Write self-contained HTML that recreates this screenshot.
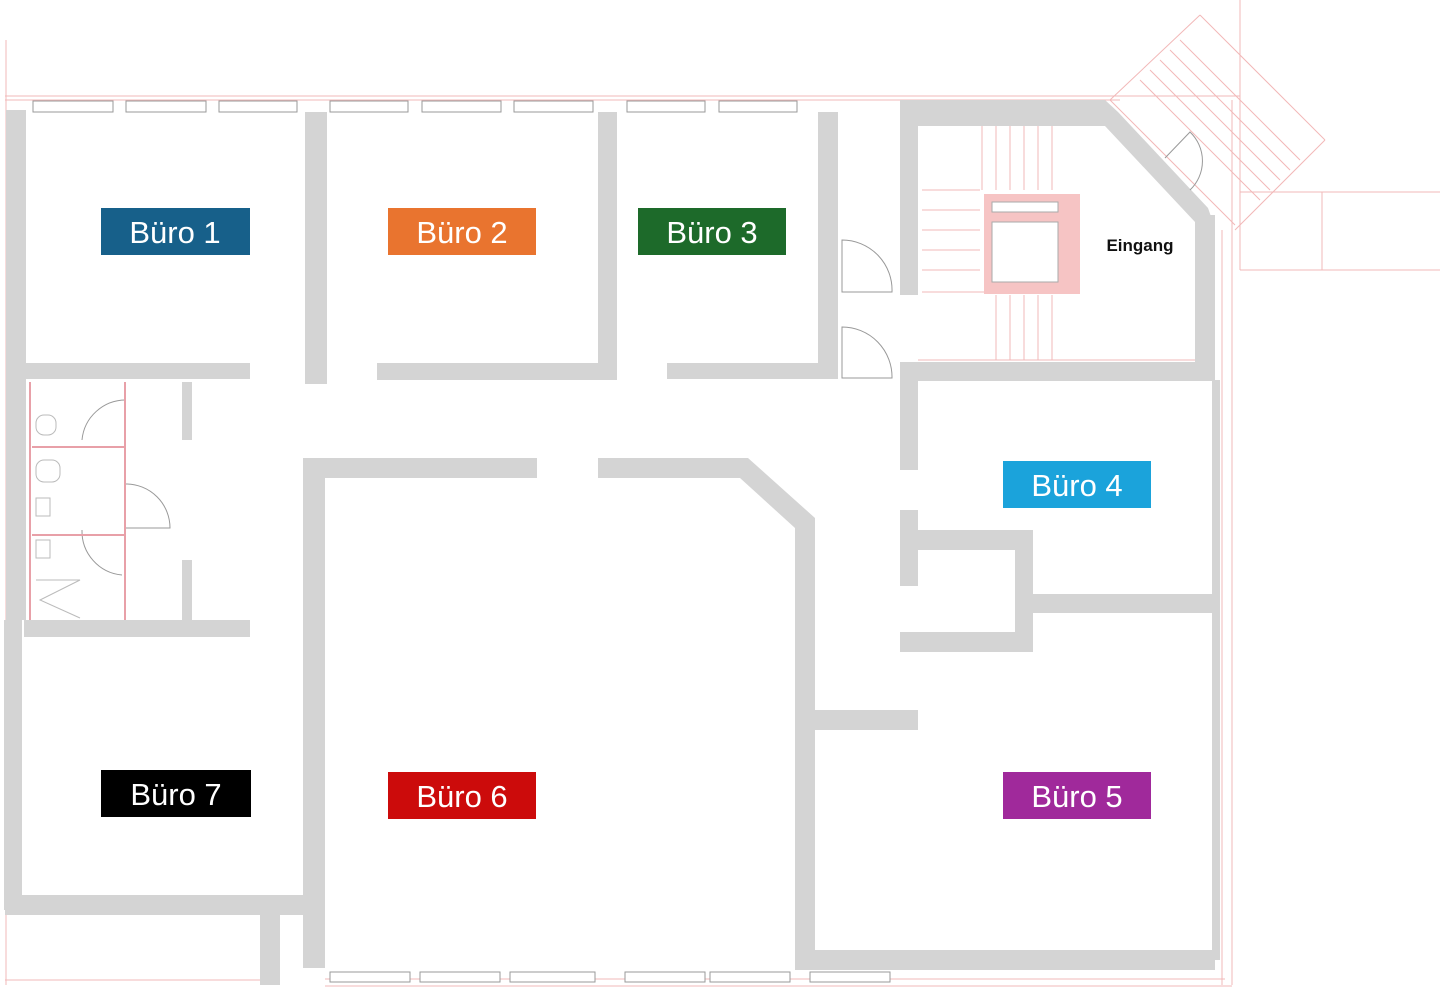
<!DOCTYPE html>
<html><head><meta charset="utf-8"><style>
html,body{margin:0;padding:0;background:#fff;}
svg{display:block}
.lbl{font-family:"Liberation Sans",sans-serif;font-size:31px;fill:#fff;text-anchor:middle}
</style></head><body>
<svg width="1440" height="990" viewBox="0 0 1440 990" xmlns="http://www.w3.org/2000/svg">
<g fill="none" stroke="#f2b8b8" stroke-width="1">
  <line x1="5" y1="96" x2="1240" y2="96"/>
  <line x1="5" y1="100" x2="1120" y2="100"/>
  <line x1="6" y1="40" x2="6" y2="985"/>
  <line x1="1232" y1="100" x2="1232" y2="985"/>
  <line x1="1222" y1="230" x2="1222" y2="985"/>
  <line x1="325" y1="986" x2="1232" y2="986"/>
  <line x1="325" y1="979" x2="1225" y2="979"/>
  <line x1="5" y1="980" x2="260" y2="980"/>
  <line x1="1110" y1="100" x2="1200" y2="15"/>
  <line x1="1200" y1="15" x2="1325" y2="140"/>
  <line x1="1235" y1="230" x2="1325" y2="140"/>
  <line x1="1180" y1="40" x2="1300" y2="160"/>
  <line x1="1170" y1="50" x2="1290" y2="170"/>
  <line x1="1160" y1="60" x2="1280" y2="180"/>
  <line x1="1150" y1="70" x2="1270" y2="190"/>
  <line x1="1140" y1="80" x2="1260" y2="200"/>
  <line x1="1110" y1="100" x2="1235" y2="225"/>
  <line x1="1240" y1="192" x2="1440" y2="192"/>
  <line x1="1240" y1="270" x2="1440" y2="270"/>
  <line x1="1322" y1="192" x2="1322" y2="270"/>
  <line x1="1240" y1="0" x2="1240" y2="270"/>
  <line x1="922" y1="190" x2="980" y2="190"/>
  <line x1="922" y1="210" x2="980" y2="210"/>
  <line x1="922" y1="230" x2="980" y2="230"/>
  <line x1="922" y1="250" x2="980" y2="250"/>
  <line x1="922" y1="270" x2="980" y2="270"/>
  <line x1="922" y1="292" x2="1080" y2="292"/>
  <line x1="982" y1="125" x2="982" y2="190"/>
  <line x1="996" y1="125" x2="996" y2="190"/>
  <line x1="1010" y1="125" x2="1010" y2="190"/>
  <line x1="1024" y1="125" x2="1024" y2="190"/>
  <line x1="1038" y1="125" x2="1038" y2="190"/>
  <line x1="1052" y1="125" x2="1052" y2="190"/>
  <line x1="996" y1="295" x2="996" y2="360"/>
  <line x1="1010" y1="295" x2="1010" y2="360"/>
  <line x1="1024" y1="295" x2="1024" y2="360"/>
  <line x1="1038" y1="295" x2="1038" y2="360"/>
  <line x1="1052" y1="295" x2="1052" y2="360"/>
  <line x1="918" y1="360" x2="1195" y2="360"/>
</g>
<rect x="984" y="194" width="96" height="100" fill="#f6c4c4"/>
<rect x="992" y="202" width="66" height="10" fill="#fff" stroke="#aaa" stroke-width="1"/>
<rect x="992" y="222" width="66" height="60" fill="#fff" stroke="#aaa" stroke-width="1"/>
<g fill="#fff" stroke="#9a9a9a" stroke-width="1">
  <rect x="33" y="101" width="80" height="11"/><rect x="126" y="101" width="80" height="11"/><rect x="219" y="101" width="78" height="11"/>
  <rect x="330" y="101" width="78" height="11"/><rect x="422" y="101" width="79" height="11"/><rect x="514" y="101" width="79" height="11"/>
  <rect x="627" y="101" width="78" height="11"/><rect x="719" y="101" width="78" height="11"/>
  <rect x="330" y="972" width="80" height="10"/><rect x="420" y="972" width="80" height="10"/><rect x="510" y="972" width="85" height="10"/>
  <rect x="625" y="972" width="80" height="10"/><rect x="710" y="972" width="80" height="10"/><rect x="810" y="972" width="80" height="10"/>
</g>
<g fill="#d4d4d4">
  <rect x="6" y="110" width="20" height="510"/>
  <rect x="4" y="620" width="18" height="290"/>
  <rect x="305" y="112" width="22" height="272"/>
  <rect x="598" y="112" width="19" height="266"/>
  <rect x="818" y="112" width="20" height="262"/>
  <rect x="900" y="100" width="205" height="26"/>
  <rect x="900" y="112" width="18" height="183"/>
  <rect x="24" y="363" width="226" height="16"/>
  <rect x="377" y="363" width="240" height="17"/>
  <rect x="667" y="363" width="171" height="16"/>
  <rect x="900" y="362" width="315" height="19"/>
  <rect x="1195" y="215" width="20" height="165"/>
  <rect x="900" y="362" width="18" height="108"/>
  <rect x="900" y="510" width="18" height="76"/>
  <rect x="900" y="530" width="132" height="20"/>
  <rect x="1015" y="530" width="18" height="122"/>
  <rect x="1032" y="594" width="180" height="19"/>
  <rect x="900" y="632" width="132" height="20"/>
  <rect x="815" y="710" width="103" height="20"/>
  <rect x="303" y="458" width="234" height="20"/>
  <rect x="303" y="458" width="22" height="510"/>
  <rect x="795" y="950" width="420" height="20"/>
  <rect x="5" y="895" width="320" height="20"/>
  <rect x="260" y="915" width="20" height="70"/>
  <rect x="24" y="620" width="226" height="17"/>
  <rect x="182" y="382" width="10" height="58"/>
  <rect x="182" y="560" width="10" height="60"/>
  <rect x="1212" y="380" width="8" height="580"/>
</g>
<polygon points="598,458 748,458 815,518 815,955 795,955 795,528 740,478 598,478" fill="#d4d4d4"/>
<polygon points="1105,100 1118,112 1208,208 1215,228 1195,228 1195,222 1105,126" fill="#d4d4d4"/>
<g fill="none" stroke="#999" stroke-width="1">
  <path d="M842 292 V240 A50 50 0 0 1 892 292 Z"/>
  <path d="M842 378 V327 A50 50 0 0 1 892 378 Z"/>
  <path d="M82 440 A44 44 0 0 1 126 400"/>
  <path d="M126 484 A44 44 0 0 1 170 528 H126"/>
  <path d="M82 530 A44 44 0 0 0 122 575"/>
  <path d="M1165 158 L1190 132 A40 40 0 0 1 1190 190"/>
</g>
<g stroke="#e8a0a8" stroke-width="2"><line x1="30" y1="382" x2="30" y2="620"/><line x1="125" y1="382" x2="125" y2="620"/><line x1="32" y1="447" x2="125" y2="447"/><line x1="32" y1="535" x2="125" y2="535"/></g>
<g fill="none" stroke="#bbb"><rect x="36" y="415" width="20" height="20" rx="8"/><rect x="36" y="460" width="24" height="22" rx="8"/><rect x="36" y="498" width="14" height="18"/><rect x="36" y="540" width="14" height="18"/><path d="M36 580 L80 580 L40 600 L80 618"/></g>
<rect x="101" y="208" width="149" height="47" fill="#17608a"/><text class="lbl" x="175" y="243">Büro 1</text>
<rect x="388" y="208" width="148" height="47" fill="#e9742f"/><text class="lbl" x="462" y="243">Büro 2</text>
<rect x="638" y="208" width="148" height="47" fill="#1d6a2a"/><text class="lbl" x="712" y="243">Büro 3</text>
<rect x="1003" y="461" width="148" height="47" fill="#1ba3db"/><text class="lbl" x="1077" y="496">Büro 4</text>
<rect x="1003" y="772" width="148" height="47" fill="#a0299b"/><text class="lbl" x="1077" y="807">Büro 5</text>
<rect x="388" y="772" width="148" height="47" fill="#cc0b0b"/><text class="lbl" x="462" y="807">Büro 6</text>
<rect x="101" y="770" width="150" height="47" fill="#000"/><text class="lbl" x="176" y="805">Büro 7</text>
<text x="1140" y="251" font-family="Liberation Sans, sans-serif" font-size="17" font-weight="bold" text-anchor="middle" fill="#111">Eingang</text>
</svg>
</body></html>
